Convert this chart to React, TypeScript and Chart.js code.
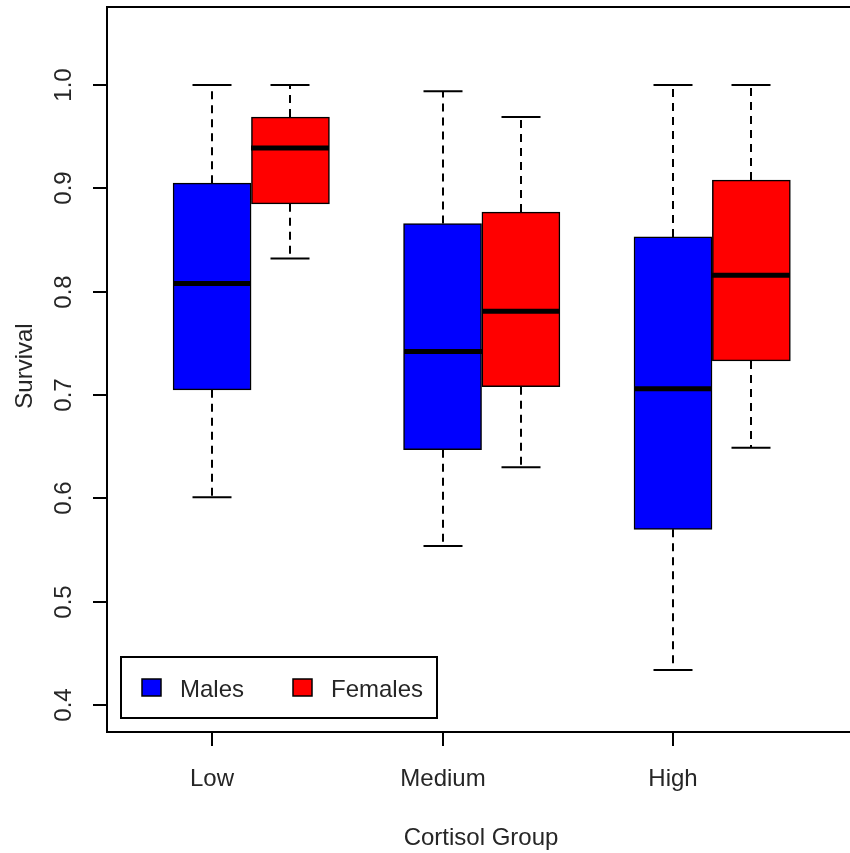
import React, { useEffect, useRef } from "react";
import { Chart, registerables } from "chart.js";

Chart.register(...registerables);

const categories = ["Low", "Medium", "High"];
const seriesNames = ["Males", "Females"];
const seriesColors = ["#0000FF", "#FF0000"];
const yTicks = [0.4, 0.5, 0.6, 0.7, 0.8, 0.9, 1.0];

// Box statistics per group: [lower whisker, Q1, median, Q3, upper whisker]
const malesLow = [0.601, 0.705, 0.808, 0.905, 1.0];
const malesMedium = [0.554, 0.647, 0.742, 0.866, 0.994];
const malesHigh = [0.434, 0.570, 0.706, 0.853, 1.0];
const femalesLow = [0.832, 0.885, 0.939, 0.969, 1.0];
const femalesMedium = [0.630, 0.708, 0.781, 0.877, 0.969];
const femalesHigh = [0.649, 0.733, 0.816, 0.908, 1.0];

const malesStats = [malesLow, malesMedium, malesHigh];
const femalesStats = [femalesLow, femalesMedium, femalesHigh];
const malePositions = [1, 2, 3];
const femalePositions = [1.34, 2.34, 3.34];

const FONT = '"Liberation Sans", Arial, sans-serif';
const TEXT = "#262626";

const boxPlugin = {
  id: "rbox",
  afterDatasetsDraw(chart: any) {
    const ctx = chart.ctx;
    const xs = chart.scales.x;
    const ys = chart.scales.y;
    const area = chart.chartArea;
    const boxW = 78;
    const groups = [
      { stats: malesStats, pos: malePositions },
      { stats: femalesStats, pos: femalePositions },
    ];
    ctx.save();
    // whiskers
    groups.forEach((g) => {
      g.stats.forEach((s, i) => {
        const cx = Math.round(xs.getPixelForValue(g.pos[i]));
        const yLo = ys.getPixelForValue(s[0]);
        const yQ1 = ys.getPixelForValue(s[1]);
        const yMed = ys.getPixelForValue(s[2]);
        const yQ3 = ys.getPixelForValue(s[3]);
        const yHi = ys.getPixelForValue(s[4]);
        ctx.strokeStyle = "#000";
        ctx.lineWidth = 2;
        ctx.setLineDash([8, 6]);
        ctx.beginPath();
        ctx.moveTo(cx, yQ3);
        ctx.lineTo(cx, yHi);
        ctx.moveTo(cx, yQ1);
        ctx.lineTo(cx, yLo);
        ctx.stroke();
        ctx.setLineDash([]);
        ctx.beginPath();
        ctx.moveTo(cx - boxW / 4, yHi);
        ctx.lineTo(cx + boxW / 4, yHi);
        ctx.moveTo(cx - boxW / 4, yLo);
        ctx.lineTo(cx + boxW / 4, yLo);
        ctx.stroke();
        // median
        ctx.lineWidth = 5;
        ctx.beginPath();
        ctx.moveTo(cx - boxW / 2, yMed);
        ctx.lineTo(cx + boxW / 2, yMed);
        ctx.stroke();
      });
    });
    // frame (left, top, bottom)
    ctx.strokeStyle = "#000";
    ctx.lineWidth = 2;
    ctx.beginPath();
    ctx.moveTo(area.right + 5, area.top);
    ctx.lineTo(area.left, area.top);
    ctx.lineTo(area.left, area.bottom);
    ctx.lineTo(area.right + 5, area.bottom);
    ctx.stroke();
    // y ticks
    ctx.fillStyle = TEXT;
    ctx.font = `24px ${FONT}`;
    ctx.textAlign = "center";
    ctx.textBaseline = "middle";
    yTicks.forEach((t) => {
      const y = Math.round(ys.getPixelForValue(t));
      ctx.beginPath();
      ctx.moveTo(area.left, y);
      ctx.lineTo(area.left - 14, y);
      ctx.stroke();
      ctx.save();
      ctx.translate(64, y);
      ctx.rotate(-Math.PI / 2);
      ctx.fillText(t.toFixed(1), 0, 0);
      ctx.restore();
    });
    // x ticks
    categories.forEach((c, i) => {
      const x = Math.round(xs.getPixelForValue(malePositions[i]));
      ctx.beginPath();
      ctx.moveTo(x, area.bottom);
      ctx.lineTo(x, area.bottom + 14);
      ctx.stroke();
      ctx.fillText(c, x, 779);
    });
    // axis titles
    ctx.fillText("Cortisol Group", 481, 838);
    ctx.save();
    ctx.translate(25, 366);
    ctx.rotate(-Math.PI / 2);
    ctx.fillText("Survival", 0, 0);
    ctx.restore();
    // legend
    ctx.lineWidth = 2;
    ctx.strokeStyle = "#000";
    ctx.strokeRect(121, 657, 316, 61);
    const legendX = [142, 293];
    seriesNames.forEach((n, i) => {
      ctx.fillStyle = seriesColors[i];
      ctx.fillRect(legendX[i], 679, 19, 17);
      ctx.lineWidth = 1.5;
      ctx.strokeRect(legendX[i], 679, 19, 17);
      ctx.fillStyle = TEXT;
      ctx.textAlign = "left";
      ctx.fillText(n, legendX[i] + 38, 690);
    });
    ctx.restore();
  },
};

export default function App() {
  const ref = useRef<HTMLCanvasElement | null>(null);
  useEffect(() => {
    if (!ref.current) return;
    const mk = (stats: number[][], pos: number[]) =>
      stats.map((s, i) => ({ x: pos[i], y: [s[1], s[3]] }));
    const chart = new Chart(ref.current, {
      type: "bar",
      data: {
        datasets: [
          {
            label: seriesNames[0],
            data: mk(malesStats, malePositions) as any,
            backgroundColor: seriesColors[0],
            borderColor: "#000",
            borderWidth: 1.5,
            borderSkipped: false,
            barThickness: 78,
            grouped: false,
          } as any,
          {
            label: seriesNames[1],
            data: mk(femalesStats, femalePositions) as any,
            backgroundColor: seriesColors[1],
            borderColor: "#000",
            borderWidth: 1.5,
            borderSkipped: false,
            barThickness: 78,
            grouped: false,
          } as any,
        ],
      },
      options: {
        responsive: false,
        animation: false,
        layout: { padding: { left: 107, top: 7, right: 0, bottom: 121 } },
        plugins: { legend: { display: false }, tooltip: { enabled: false } },
        scales: {
          x: { type: "linear", min: 0.544, max: 3.768, offset: false, display: false },
          y: { type: "linear", min: 0.3739, max: 1.0755, display: false },
        },
      },
      plugins: [boxPlugin],
    });
    return () => chart.destroy();
  }, []);
  return (
    <div style={{ position: "fixed", left: 0, top: 0, width: 850, height: 853, background: "#fff" }}>
      <canvas ref={ref} width={850} height={853} />
    </div>
  );
}
